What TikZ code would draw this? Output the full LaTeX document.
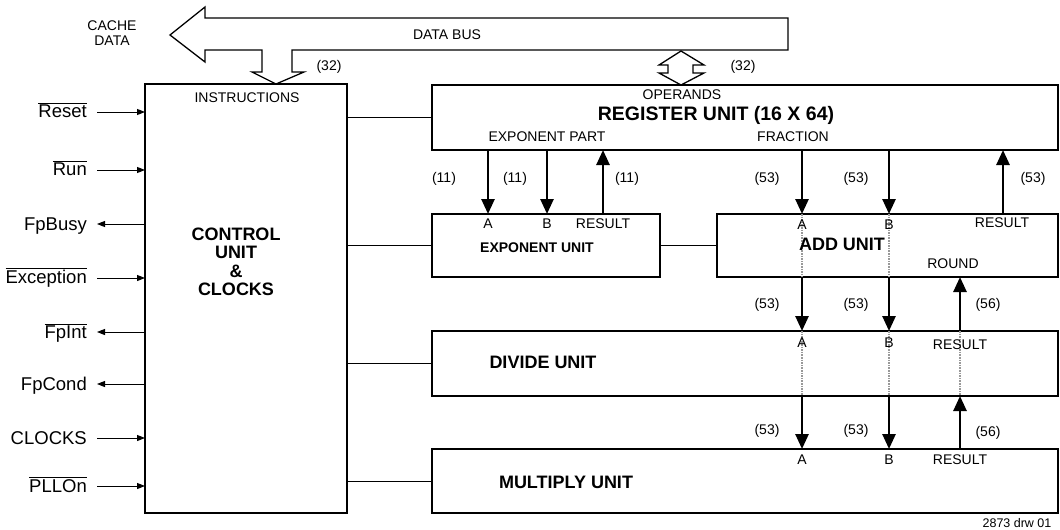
\documentclass[tikz,border=0pt]{standalone}
\usepackage{fontspec}
\setmainfont{Liberation Sans}
\usetikzlibrary{arrows.meta}
\begin{document}
\begin{tikzpicture}[x=1pt,y=-1pt,
 box/.style={draw,line width=1.5pt,inner sep=0pt,outer sep=0pt,anchor=north west},
 lbl/.style={font=\fontsize{14}{16}\selectfont,inner sep=0pt},
 sig/.style={font=\fontsize{18.5}{20}\selectfont,inner sep=0pt,anchor=base east},
 uname/.style={font=\fontsize{18}{18.5}\selectfont\bfseries,inner sep=0pt},
 bus/.style={line width=2.6pt,-{Triangle[length=15pt,width=13pt]}},
 link/.style={line width=1pt},
 sigin/.style={line width=1pt,-{Triangle[length=8pt,width=6pt]}},
 ghost/.style={draw=gray!80,line width=1.6pt,densely dotted},
 outline/.style={draw,line width=1.3pt,line join=miter}]
\useasboundingbox (0,0) rectangle (1060,530);

% boxes
\node[box,minimum width=202pt,minimum height=429pt] (ctrl) at (145,84) {};
\node[box,minimum width=626pt,minimum height=65pt] (reg) at (432,85) {};
\node[box,minimum width=228pt,minimum height=63pt] (exp) at (432,214) {};
\node[box,minimum width=341pt,minimum height=63pt] (add) at (717,214) {};
\node[box,minimum width=626pt,minimum height=65pt] (div) at (432,331) {};
\node[box,minimum width=626pt,minimum height=64pt] (mul) at (432,449) {};

% data bus
\draw[outline] (170,35) -- (205,7) -- (205,18) -- (788,18) -- (788,50) -- (292,50)
  -- (292,72) -- (304,72) -- (276,84) -- (252,72) -- (262,72) -- (262,50)
  -- (205,50) -- (205,62) -- cycle;
\draw[outline] (681,51) -- (659,65) -- (668,65) -- (668,73) -- (659,73) -- (681,85)
  -- (704,73) -- (693,73) -- (693,65) -- (704,65) -- cycle;
\node[lbl] (dbus) at (447,35) {DATA BUS};
\node[lbl,align=center] (cache) at (112,33) {CACHE\\[-1.5pt]DATA};
\node[lbl] (n32a) at (329,67) {(32)};
\node[lbl] (n32b) at (743,67) {(32)};

% control unit
\node[lbl] (instr) at (247,98) {INSTRUCTIONS};
\node[uname,align=center] (ctext) at (236,262) {CONTROL\\UNIT\\\&\\CLOCKS};

% links from control unit
\draw[link] (reg.west -| ctrl.east) -- (reg.west);
\draw[link] (exp.west -| ctrl.east) -- (exp.west);
\draw[link] (exp.east) -- (add.west);
\draw[link] (div.west -| ctrl.east) -- (div.west);
\draw[link] (mul.west -| ctrl.east) -- (mul.west);

% signals
\coordinate (s1) at (97,112);
\coordinate (s2) at (97,170);
\coordinate (s3) at (97,224);
\coordinate (s4) at (97,278);
\coordinate (s5) at (97,332);
\coordinate (s6) at (97,384);
\coordinate (s7) at (97,438);
\coordinate (s8) at (97,486);
\node[sig] (l1) at (87,117) {$\overline{\mbox{Reset}}$};
\node[sig] (l2) at (87,175) {$\overline{\mbox{Run}}$};
\node[sig] (l3) at (87,230) {FpBusy};
\node[sig] (l4) at (87,283) {$\overline{\mbox{Exception}}$};
\node[sig] (l5) at (87,338) {$\overline{\mbox{FpInt}}$};
\node[sig] (l6) at (87,390) {FpCond};
\node[sig] (l7) at (87,444) {CLOCKS};
\node[sig] (l8) at (87,492) {$\overline{\mbox{PLLOn}}$};
\draw[sigin] (s1) -- (s1 -| ctrl.west);
\draw[sigin] (s2) -- (s2 -| ctrl.west);
\draw[sigin] (s3 -| ctrl.west) -- (s3);
\draw[sigin] (s4) -- (s4 -| ctrl.west);
\draw[sigin] (s5 -| ctrl.west) -- (s5);
\draw[sigin] (s6 -| ctrl.west) -- (s6);
\draw[sigin] (s7) -- (s7 -| ctrl.west);
\draw[sigin] (s8) -- (s8 -| ctrl.west);

% register unit
\node[lbl] (oper) at (682,95) {OPERANDS};
\node[font=\fontsize{19.5}{20}\selectfont\bfseries,inner sep=0pt] (regt) at (716,115) {REGISTER UNIT (16 X 64)};
\node[lbl] (expp) at (547,137) {EXPONENT PART};
\node[lbl] (frac) at (793,137) {FRACTION};

% column positions
\coordinate (xeA) at (488,0);
\coordinate (xeB) at (547,0);
\coordinate (xeR) at (603,0);
\coordinate (xA) at (802,0);
\coordinate (xB) at (889,0);
\coordinate (xR) at (1003,0);
\coordinate (xD) at (960,0);

% ghost lines
\draw[ghost] (add.north -| xA) -- (add.south -| xA);
\draw[ghost] (add.north -| xB) -- (add.south -| xB);
\draw[ghost] (div.north -| xA) -- (div.south -| xA);
\draw[ghost] (div.north -| xB) -- (div.south -| xB);
\draw[ghost] (div.north -| xD) -- (div.south -| xD);

% exponent buses
\draw[bus] (reg.south -| xeA) -- (exp.north -| xeA);
\draw[bus] (reg.south -| xeB) -- (exp.north -| xeB);
\draw[bus] (exp.north -| xeR) -- (reg.south -| xeR);
% fraction buses
\draw[bus] (reg.south -| xA) -- (add.north -| xA);
\draw[bus] (reg.south -| xB) -- (add.north -| xB);
\draw[bus] (add.north -| xR) -- (reg.south -| xR);
\draw[bus] (add.south -| xA) -- (div.north -| xA);
\draw[bus] (add.south -| xB) -- (div.north -| xB);
\draw[bus] (div.north -| xD) -- (add.south -| xD);
\draw[bus] (div.south -| xA) -- (mul.north -| xA);
\draw[bus] (div.south -| xB) -- (mul.north -| xB);
\draw[bus] (mul.north -| xD) -- (div.south -| xD);

% width labels
\node[lbl] (w1) at (444,179) {(11)};
\node[lbl] (w2) at (515,179) {(11)};
\node[lbl] (w3) at (627,179) {(11)};
\node[lbl] (w4) at (767,179) {(53)};
\node[lbl] (w5) at (856,179) {(53)};
\node[lbl] (w6) at (1033,179) {(53)};
\node[lbl] (w7) at (767,305) {(53)};
\node[lbl] (w8) at (856,305) {(53)};
\node[lbl] (w9) at (988,305) {(56)};
\node[lbl] (w10) at (767,431) {(53)};
\node[lbl] (w11) at (856,431) {(53)};
\node[lbl] (w12) at (988,433) {(56)};

% exponent unit
\node[lbl] (eA) at (488,224) {A};
\node[lbl] (eB) at (547,224) {B};
\node[lbl] (eR) at (603,224) {RESULT};
\node[font=\fontsize{14}{16}\selectfont\bfseries,inner sep=0pt] (expt) at (537,248) {EXPONENT UNIT};

% add unit
\node[lbl] (aA) at (802,225) {A};
\node[lbl] (aB) at (889,225) {B};
\node[lbl] (aR) at (1002,223) {RESULT};
\node[uname] (addt) at (842,244) {ADD UNIT};
\node[lbl] (aRd) at (953,264) {ROUND};

% divide unit
\node[lbl] (dA) at (802,343) {A};
\node[lbl] (dB) at (889,343) {B};
\node[lbl] (dR) at (960,345) {RESULT};
\node[uname] (divt) at (543,362) {DIVIDE UNIT};

% multiply unit
\node[lbl] (mA) at (802,460) {A};
\node[lbl] (mB) at (889,460) {B};
\node[lbl] (mR) at (960,460) {RESULT};
\node[uname] (mult) at (566,482) {MULTIPLY UNIT};

\node[font=\fontsize{12.5}{14}\selectfont,inner sep=0pt] (drw) at (1017,523) {2873 drw 01};
\end{tikzpicture}
\end{document}
